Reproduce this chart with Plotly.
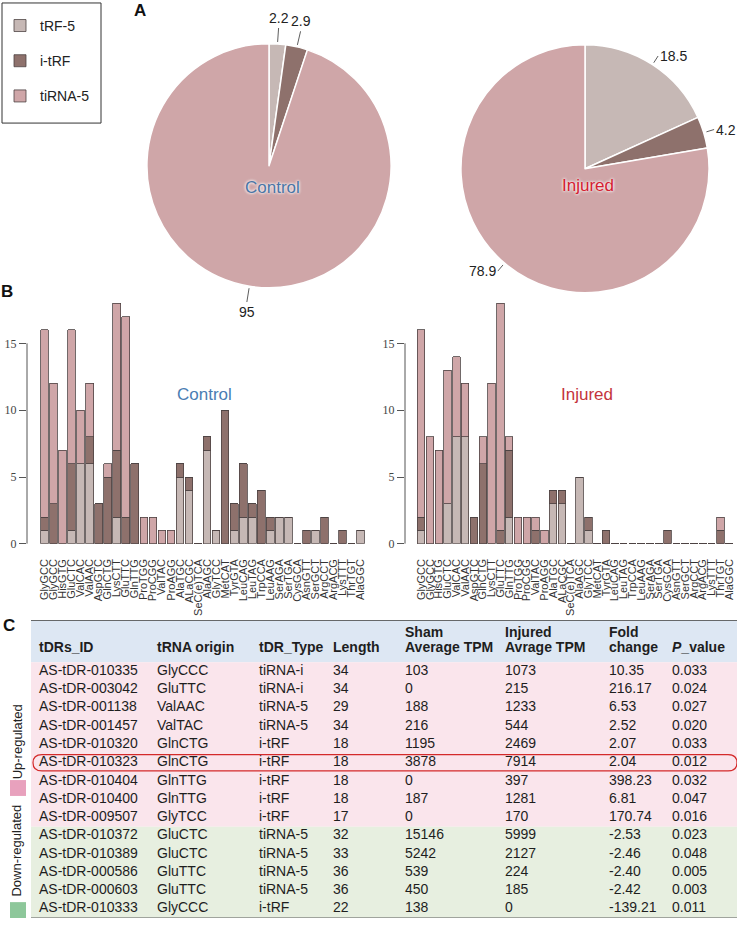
import math
import plotly.graph_objects as go

W, H = 744, 927
def px(x): return x / W
def py(y): return 1 - y / H

SANS = "Arial, Liberation Sans, sans-serif"
SERIF = "Times New Roman, Liberation Serif, serif"

# ---------------- data ----------------
fragment_types = ["tRF-5", "i-tRF", "tiRNA-5"]
control_pct = [2.2, 2.9, 95]
injured_pct = [18.5, 4.2, 78.9]
type_colors = ["#c6b8b5", "#8e716c", "#cfa6a8"]

trna_origin = ["GlyGCC", "GlyGCC", "HisGTG", "GluCTC", "ValCAC", "ValAAC", "AspGTC", "GlnCTG",
               "LysCTT", "GluTTC", "GlnTTG", "ProTGG", "ProCGG", "ValTAC", "ProAGG", "AlaTGC",
               "ALaCGC", "SeC(e)TCA", "AlaAGC", "GlyTCC", "MetCAT", "TyrGTA", "LeuCAG", "LeuTAG",
               "TrpCCA", "LeuAAG", "SerAGA", "SerTGA", "CysGCA", "AsnGTT", "SerGCT", "ArgCCT",
               "ArgACG", "LysTTT", "ThrTGT", "AlaGGC"]
control_trf5 = [1, 0, 0, 1, 6, 6, 0, 0, 2, 0, 0, 0, 0, 0, 0, 5, 4, 0, 7, 1,
                0, 1, 2, 2, 0, 1, 2, 2, 0, 0, 1, 0, 0, 0, 0, 1]
control_itrf = [1, 3, 0, 5, 0, 2, 3, 5, 5, 2, 6, 0, 0, 0, 0, 1, 1, 0, 1, 0,
                10, 2, 4, 1, 4, 1, 0, 0, 0, 1, 0, 2, 0, 1, 0, 0]
control_tirna = [14, 9, 7, 10, 4, 4, 0, 1, 11, 15, 0, 2, 2, 1, 1, 0, 0, 0, 0, 0,
                 0, 0, 0, 0, 0, 0, 0, 0, 0, 0, 0, 0, 0, 0, 0, 0]
injured_trf5 = [1, 0, 0, 3, 8, 8, 0, 0, 0, 0, 2, 0, 0, 0, 0, 3, 3, 0, 5, 1,
                0, 0, 0, 0, 0, 0, 0, 0, 0, 0, 0, 0, 0, 0, 0, 0]
injured_itrf = [1, 0, 0, 0, 0, 0, 2, 6, 0, 1, 5, 0, 0, 1, 0, 1, 1, 0, 0, 1,
                0, 1, 0, 0, 0, 0, 0, 0, 1, 0, 0, 0, 0, 0, 1, 0]
injured_tirna = [14, 8, 7, 10, 6, 4, 0, 2, 12, 17, 1, 2, 2, 1, 1, 0, 0, 0, 0, 0,
                 0, 0, 0, 0, 0, 0, 0, 0, 0, 0, 0, 0, 0, 0, 1, 0]
y_ticks = [0, 5, 10, 15]

tdr_id = ["AS-tDR-010335", "AS-tDR-003042", "AS-tDR-001138", "AS-tDR-001457", "AS-tDR-010320",
          "AS-tDR-010323", "AS-tDR-010404", "AS-tDR-010400", "AS-tDR-009507", "AS-tDR-010372",
          "AS-tDR-010389", "AS-tDR-000586", "AS-tDR-000603", "AS-tDR-010333"]
trna_src = ["GlyCCC", "GluTTC", "ValAAC", "ValTAC", "GlnCTG", "GlnCTG", "GlnTTG", "GlnTTG",
            "GlyTCC", "GluCTC", "GluCTC", "GluTTC", "GluTTC", "GlyCCC"]
tdr_type = ["tiRNA-i", "tiRNA-i", "tiRNA-5", "tiRNA-5", "i-tRF", "i-tRF", "i-tRF", "i-tRF",
            "i-tRF", "tiRNA-5", "tiRNA-5", "tiRNA-5", "tiRNA-5", "i-tRF"]
tdr_length = [34, 34, 29, 34, 18, 18, 18, 18, 17, 32, 33, 36, 36, 22]
sham_tpm = [103, 0, 188, 216, 1195, 3878, 0, 187, 0, 15146, 5242, 539, 450, 138]
injured_tpm = [1073, 215, 1233, 544, 2469, 7914, 397, 1281, 170, 5999, 2127, 224, 185, 0]
fold_change = ["10.35", "216.17", "6.53", "2.52", "2.07", "2.04", "398.23", "6.81", "170.74",
               "-2.53", "-2.46", "-2.40", "-2.42", "-139.21"]
p_value = ["0.033", "0.024", "0.027", "0.020", "0.033", "0.012", "0.032", "0.047", "0.016",
           "0.023", "0.048", "0.005", "0.003", "0.011"]
regulation = ["up"] * 9 + ["down"] * 5
highlight_id = "AS-tDR-010323"
header_top = ["", "", "", "", "Sham", "Injured", "Fold", ""]
header_bottom = ["tDRs_ID", "tRNA origin", "tDR_Type", "Length", "Average TPM", "Avrage TPM",
                 "change", "<i>P</i>_value"]

# ---------------- figure ----------------
fig = go.Figure()
annotations = []

# Pies (center x, center y, radius in px)
pie_specs = [(control_pct, 269, 167, 123), (injured_pct, 585, 170, 125)]
for vals, cx, cy, r in pie_specs:
    fig.add_trace(go.Pie(
        labels=fragment_types, values=vals, sort=False, direction="clockwise", rotation=0,
        marker=dict(colors=type_colors, line=dict(color="white", width=1.5)),
        textinfo="none", showlegend=False, hoverinfo="label+value",
        domain=dict(x=[px(cx - r), px(cx + r)], y=[py(cy + r), py(cy - r)]),
    ))
    # outside value labels with short leader lines, at the slice mid-angle
    total = sum(vals)
    cum = 0
    for v in vals:
        theta = 2 * math.pi * (cum + v / 2) / total
        cum += v
        sx, sy = math.sin(theta), -math.cos(theta)
        ex, ey = cx + (r + 2) * sx, cy + (r + 2) * sy
        L = 14 if abs(sy) > 0.9 else 8
        annotations.append(dict(
            text=str(v), x=px(ex), y=py(ey), ax=L * sx, ay=L * sy,
            showarrow=True, arrowhead=0, arrowwidth=0.8, arrowcolor="#333",
            xanchor="left" if sx > 0.3 else ("right" if sx < -0.3 else "center"),
            yanchor="bottom" if sy < -0.9 else ("top" if sy > 0.9 else "middle"),
            font=dict(family=SANS, size=14, color="#222"),
        ))

# Stacked bars
xs = list(range(len(trna_origin)))
bar_line = dict(color="#4d4343", width=0.8)
for k, (series, ax) in enumerate([((control_trf5, control_itrf, control_tirna), ("x", "y")),
                                  ((injured_trf5, injured_itrf, injured_tirna), ("x2", "y2"))]):
    for name, vals, col in zip(fragment_types, series, type_colors):
        fig.add_trace(go.Bar(
            x=xs, y=vals, name=name, legendgroup=name, showlegend=(k == 0),
            marker=dict(color=col, line=bar_line), xaxis=ax[0], yaxis=ax[1],
        ))

# Table as text traces on a hidden axis
n_rows = len(tdr_id)
col_x = [8, 126, 228, 302, 374, 474, 578, 641]
columns = [tdr_id, trna_src, tdr_type, tdr_length, sham_tpm, injured_tpm, fold_change, p_value]
rows = list(range(n_rows))
for cxx, col in zip(col_x, columns):
    fig.add_trace(go.Scatter(
        x=[cxx] * n_rows, y=rows, text=[str(v) for v in col], mode="text",
        textposition="middle right", textfont=dict(family=SANS, size=14, color="#1e1e1e"),
        xaxis="x3", yaxis="y3", showlegend=False, hoverinfo="skip",
    ))
fig.add_trace(go.Scatter(
    x=col_x, y=[-1.25] * len(col_x), text=["<b>%s</b>" % t for t in header_bottom], mode="text",
    textposition="middle right", textfont=dict(family=SANS, size=14, color="#1e1e1e"),
    xaxis="x3", yaxis="y3", showlegend=False, hoverinfo="skip",
))
fig.add_trace(go.Scatter(
    x=col_x, y=[-2.1] * len(col_x), text=["<b>%s</b>" % t if t else "" for t in header_top], mode="text",
    textposition="middle right", textfont=dict(family=SANS, size=14, color="#1e1e1e"),
    xaxis="x3", yaxis="y3", showlegend=False, hoverinfo="skip",
))

shapes = []
shapes.append(dict(type="rect", xref="x3 domain", yref="y3", x0=0, x1=1, y0=-2.8, y1=-0.5,
                   fillcolor="#dde7f3", line=dict(width=0), layer="below"))
n_up = regulation.count("up")
shapes.append(dict(type="rect", xref="x3 domain", yref="y3", x0=0, x1=1, y0=-0.5, y1=n_up - 0.5,
                   fillcolor="#fae5ec", line=dict(width=0), layer="below"))
shapes.append(dict(type="rect", xref="x3 domain", yref="y3", x0=0, x1=1, y0=n_up - 0.5, y1=n_rows - 0.5,
                   fillcolor="#e7efe0", line=dict(width=0), layer="below"))
shapes.append(dict(type="line", xref="x3 domain", yref="y3", x0=0, x1=1, y0=-2.8, y1=-2.8,
                   line=dict(color="#3a3a3a", width=1.5)))
shapes.append(dict(type="line", xref="x3 domain", yref="y3", x0=0, x1=1, y0=n_rows - 0.45, y1=n_rows - 0.45,
                   line=dict(color="#5a5a5a", width=3)))
hr = tdr_id.index(highlight_id)
a, b, t0, t1, rr = 2, 706, hr - 0.45, hr + 0.45, 9
shapes.append(dict(type="path", xref="x3", yref="y3",
                   path=f"M {a+rr},{t0} L {b-rr},{t0} Q {b},{t0} {b},{hr} Q {b},{t1} {b-rr},{t1} "
                        f"L {a+rr},{t1} Q {a},{t1} {a},{hr} Q {a},{t0} {a+rr},{t0} Z",
                   line=dict(color="#d42a2a", width=1.2)))
for yref, xref in [("y", "x domain"), ("y2", "x2 domain")]:
    shapes.append(dict(type="line", xref=xref, yref=yref, x0=0, x1=0, y0=y_ticks[0], y1=y_ticks[-1],
                       line=dict(color="#555", width=1)))
shapes.append(dict(type="rect", xref="paper", yref="paper", x0=px(2), x1=px(101), y0=py(124), y1=py(3),
                   line=dict(color="#333", width=1), fillcolor="rgba(0,0,0,0)"))
shapes.append(dict(type="rect", xref="paper", yref="paper", x0=px(10), x1=px(26), y0=py(802), y1=py(786),
                   fillcolor="#e8a1bd", line=dict(width=0)))
shapes.append(dict(type="rect", xref="paper", yref="paper", x0=px(10), x1=px(26), y0=py(925), y1=py(909),
                   fillcolor="#8dc79a", line=dict(width=0)))

fixed_annotations = [
    dict(text="<b>A</b>", x=px(140), y=py(11), font=dict(family=SANS, size=17, color="#111")),
    dict(text="<b>B</b>", x=px(7), y=py(294), font=dict(family=SANS, size=17, color="#111")),
    dict(text="<b>C</b>", x=px(9), y=py(630), font=dict(family=SANS, size=17, color="#111")),
    dict(text="Control", x=px(272), y=py(189),
         font=dict(family=SANS, size=17, color="#4a75a5", shadow="0 0 3px white, 0 0 3px white")),
    dict(text="Injured", x=px(588), y=py(187),
         font=dict(family=SANS, size=17, color="#d42030", shadow="0 0 3px white, 0 0 3px white")),
    dict(text="Control", x=px(205), y=py(397), font=dict(family=SANS, size=17, color="#4a7db3")),
    dict(text="Injured", x=px(587), y=py(397), font=dict(family=SANS, size=17, color="#c4343c")),
    dict(text="Up-regulated", x=px(17), y=py(748), textangle=-90,
         font=dict(family=SANS, size=13, color="#222")),
    dict(text="Down-regulated", x=px(17), y=py(857), textangle=-90,
         font=dict(family=SANS, size=13, color="#222")),
]
for an in fixed_annotations:
    an.update(showarrow=False, xanchor="center", yanchor="middle")
annotations += fixed_annotations
for an in annotations:
    an.update(xref="paper", yref="paper")

xcommon = dict(tickmode="array", tickvals=xs, ticktext=trna_origin, tickangle=-90,
               tickfont=dict(family=SANS, size=11, color="#333"), showline=False, showgrid=False,
               zeroline=False, ticks="", ticklabelstandoff=12)
ycommon = dict(range=[0, 18.41], tickmode="array", tickvals=y_ticks, ticks="outside", ticklen=7,
               tickcolor="#555", tickfont=dict(family=SERIF, size=12, color="#444"),
               showline=False, showgrid=False, zeroline=False, domain=[py(548), py(300)])

fig.update_layout(
    width=W, height=H, margin=dict(l=0, r=0, t=0, b=0),
    paper_bgcolor="white", plot_bgcolor="rgba(0,0,0,0)",
    barmode="stack", bargap=0.15,
    xaxis=dict(domain=[px(27), px(368)], range=[-1.94, 35.82], anchor="y", **xcommon),
    yaxis=dict(anchor="x", **ycommon),
    xaxis2=dict(domain=[px(405), px(740)], range=[-1.84, 36.23], anchor="y2", **xcommon),
    yaxis2=dict(anchor="x2", **ycommon),
    xaxis3=dict(domain=[px(31), px(737)], range=[0, 706], anchor="y3", visible=False, fixedrange=True),
    yaxis3=dict(domain=[py(925), py(625)], range=[13.5, -2.8], anchor="x3", visible=False, fixedrange=True),
    legend=dict(x=px(0), y=py(10), xanchor="left", yanchor="top", traceorder="grouped",
                tracegroupgap=14, bgcolor="rgba(0,0,0,0)", borderwidth=0,
                font=dict(family=SANS, size=14, color="#222")),
    shapes=shapes, annotations=annotations,
)

fig.write_html("out.html", config={"displayModeBar": False},
               post_script="document.body.style.margin='0';")
